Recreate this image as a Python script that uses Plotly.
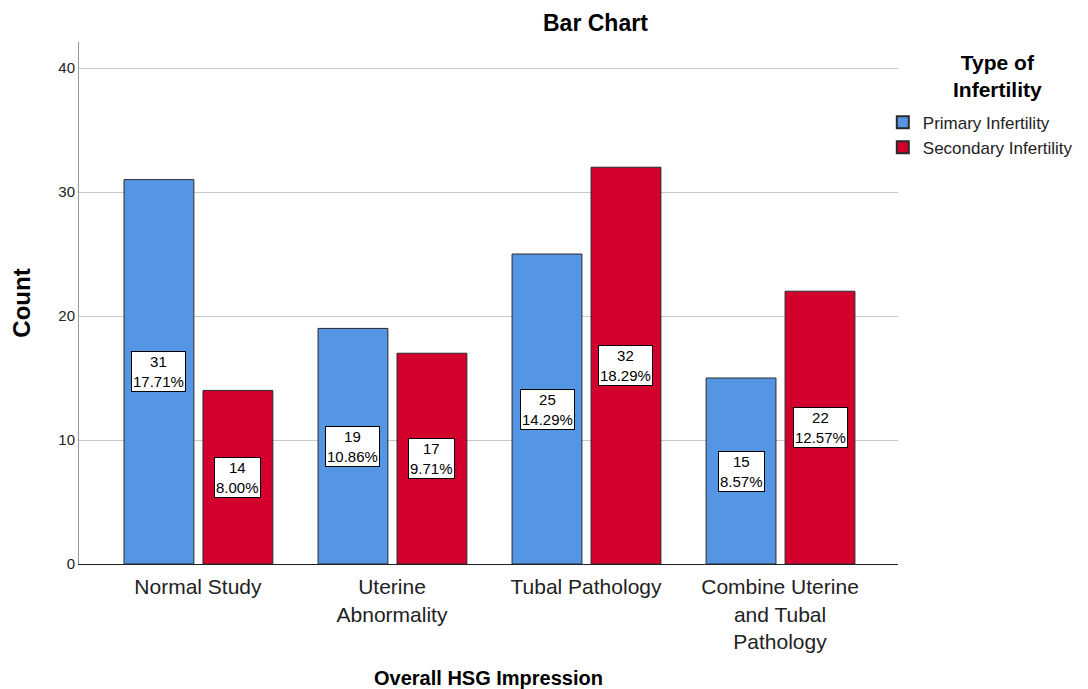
import plotly.graph_objects as go

categories = ["Normal Study", "Uterine<br>Abnormality", "Tubal Pathology", "Combine Uterine<br>and Tubal<br>Pathology"]
primary = [31, 19, 25, 15]
secondary = [14, 17, 32, 22]
primary_pct = ["17.71%", "10.86%", "14.29%", "8.57%"]
secondary_pct = ["8.00%", "9.71%", "18.29%", "12.57%"]
y_ticks = [0, 10, 20, 30, 40]

FONT = "Liberation Sans, Arial, sans-serif"
BLUE = "#5596E4"
RED = "#D3002E"
W = 0.36
OFF_P = -0.381
OFF_S = 0.026

xs = list(range(len(categories)))

fig = go.Figure()
fig.add_trace(go.Bar(x=xs, y=primary, name="Primary Infertility", width=W, offset=OFF_P,
                     marker=dict(color=BLUE, line=dict(color="#2a2a2a", width=1))))
fig.add_trace(go.Bar(x=xs, y=secondary, name="Secondary Infertility", width=W, offset=OFF_S,
                     marker=dict(color=RED, line=dict(color="#2a2a2a", width=1))))

anns = []
for i in xs:
    for vals, pcts, off in ((primary, primary_pct, OFF_P), (secondary, secondary_pct, OFF_S)):
        anns.append(dict(x=i + off + W / 2, y=vals[i] / 2, xref="x", yref="y",
                         text=f"{vals[i]}<br>{pcts[i]}", showarrow=False,
                         font=dict(family=FONT, size=15, color="black"),
                         bgcolor="white", bordercolor="black", borderwidth=1, borderpad=1))

anns.append(dict(x=0.631, y=1.0, xref="paper", yref="paper", yshift=19, text="<b>Bar Chart</b>",
                 showarrow=False, xanchor="center", yanchor="middle",
                 font=dict(family=FONT, size=23, color="black")))
anns.append(dict(x=1.122, y=0.935, xref="paper", yref="paper", text="<b>Type of<br>Infertility</b>",
                 showarrow=False, xanchor="center", yanchor="middle", align="center",
                 font=dict(family=FONT, size=21, color="black")))

fig.update_layout(
    width=1080, height=681,
    margin=dict(l=71, r=190, t=34, b=125, autoexpand=False),
    paper_bgcolor="white", plot_bgcolor="white",
    font=dict(family=FONT, color="black"),
    barmode="overlay",
    showlegend=True,
    annotations=anns,
    legend=dict(xref="container", yref="container", x=0.810, y=0.858,
                xanchor="left", yanchor="top",
                font=dict(family=FONT, size=17, color="#222"),
                tracegroupgap=0, itemsizing="constant"),
    xaxis=dict(range=[-0.613, 3.608], tickvals=xs, ticktext=categories,
               tickfont=dict(family=FONT, size=21, color="#222"),
               showgrid=False, showline=True, linecolor="#222", linewidth=1,
               ticks="", zeroline=False, automargin=False, ticklabelstandoff=4,
               title=dict(text="<b>Overall HSG Impression</b>", standoff=40,
                          font=dict(family=FONT, size=20, color="black"))),
    yaxis=dict(range=[0, 42.1], tickvals=y_ticks,
               tickfont=dict(family=FONT, size=15, color="#222"),
               showgrid=True, gridcolor="#c8c8c8", gridwidth=1,
               showline=True, linecolor="#999", linewidth=1, zeroline=False,
               ticks="", ticklen=0, automargin=False,
               title=dict(text="<b>Count</b>", standoff=20,
                          font=dict(family=FONT, size=24, color="black"))),
)

fig.write_html("out.html")
